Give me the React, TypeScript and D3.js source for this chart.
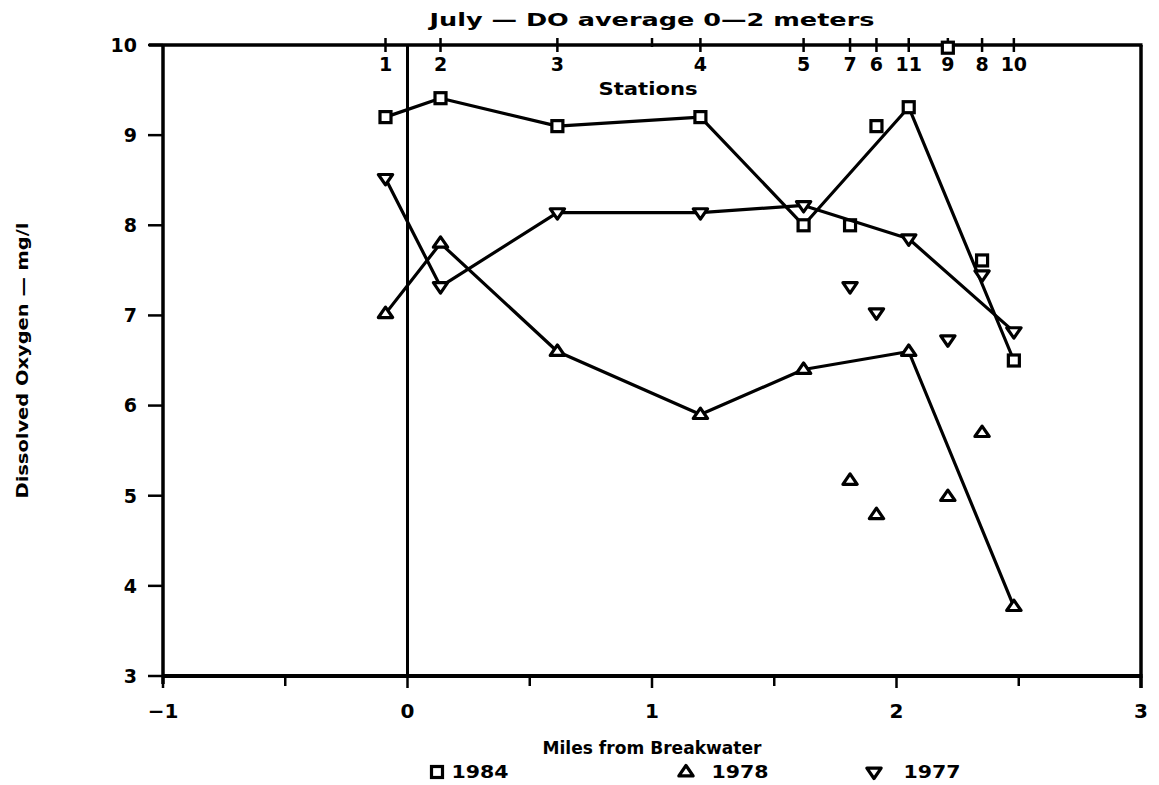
import React from "react";
import * as d3 from "d3";

// Stations along the shore, and their distance from the breakwater (miles)
const stationNames = ["1", "2", "3", "4", "5", "7", "6", "11", "9", "8", "10"];
const stationMiles = [-0.09, 0.135, 0.613, 1.198, 1.62, 1.81, 1.918, 2.05, 2.21, 2.35, 2.48];
// Stations joined by the trend lines (others are plotted as lone points)
const connectedStations = ["1", "2", "3", "4", "5", "11", "10"];

// July dissolved oxygen, average over 0-2 m (mg/l), in station order above
const do1984 = [9.2, 9.41, 9.1, 9.2, 8.0, 8.0, 9.1, 9.31, 9.97, 7.61, 6.5];
const do1978 = [7.02, 7.8, 6.6, 5.9, 6.4, 5.17, 4.79, 6.6, 4.99, 5.7, 3.77];
const do1977 = [8.52, 7.32, 8.14, 8.14, 8.22, 7.32, 7.03, 7.85, 6.73, 7.45, 6.82];

const xTicks = [-1, 0, 1, 2, 3];
const xMinorTicks = [-0.5, 0.5, 1.5, 2.5];
const yTicks = [3, 4, 5, 6, 7, 8, 9, 10];

const W = 1159;
const H = 785;
const FONT = "'DejaVu Sans', Verdana, sans-serif";

type Shape = "square" | "up" | "down";

function Marker({ shape, x, y }: { shape: Shape; x: number; y: number }) {
  const s = 5.5;
  if (shape === "square") {
    return <rect x={x - s} y={y - s} width={2 * s} height={2 * s} fill="white" stroke="black" strokeWidth={3.2} />;
  }
  const h = 6.5;
  const pts =
    shape === "up"
      ? [[x, y - h], [x + h * 1.1, y + h * 0.6], [x - h * 1.1, y + h * 0.6]]
      : [[x, y + h], [x + h * 1.1, y - h * 0.6], [x - h * 1.1, y - h * 0.6]];
  return <polygon points={pts.map((p) => p.join(",")).join(" ")} fill="white" stroke="black" strokeWidth={3.2} strokeLinejoin="round" />;
}

export default function App() {
  const x = d3.scaleLinear().domain([-1, 3]).range([163, 1141]);
  const y = d3.scaleLinear().domain([3, 10]).range([676, 45]);

  const series: { name: string; values: number[]; shape: Shape }[] = [
    { name: "1984", values: do1984, shape: "square" },
    { name: "1978", values: do1978, shape: "up" },
    { name: "1977", values: do1977, shape: "down" },
  ];

  const line = d3
    .line<[number, number]>()
    .x((d) => x(d[0]))
    .y((d) => y(d[1]));

  const [x0, x1] = x.range();
  const [yb, yt] = y.range();

  return (
    <svg width={W} height={H} style={{ position: "absolute", left: 0, top: 0, background: "white" }} fontFamily={FONT} fontWeight="bold">
      {/* frame */}
      <line x1={x0} y1={yt} x2={x0} y2={yb + 8} stroke="black" strokeWidth={3.5} />
      <line x1={x0 - 14} y1={yt} x2={x1 + 1.5} y2={yt} stroke="black" strokeWidth={3.5} />
      <line x1={x1} y1={yt} x2={x1} y2={yb + 12} stroke="black" strokeWidth={3.5} />
      <line x1={x0} y1={yb} x2={x1 + 1.5} y2={yb} stroke="black" strokeWidth={4} />
      {/* breakwater line at 0 miles */}
      <line x1={x(0)} y1={yt} x2={x(0)} y2={yb} stroke="black" strokeWidth={3} />

      {/* y axis */}
      {yTicks.map((t) => (
        <g key={"y" + t}>
          <line x1={x0 - 15} x2={x0} y1={y(t)} y2={y(t)} stroke="black" strokeWidth={2.5} />
          <text x={x0 - 26} y={y(t)} dy="0.36em" textAnchor="end" fontSize={19}>
            {t}
          </text>
        </g>
      ))}
      <text
        transform={`translate(28,${(yt + yb) / 2}) rotate(-90)`}
        textAnchor="middle"
        fontSize={16}
        textLength={276}
        lengthAdjust="spacingAndGlyphs"
      >
        Dissolved Oxygen — mg/l
      </text>

      {/* bottom x axis */}
      {xTicks.map((t) => (
        <g key={"x" + t}>
          <line x1={x(t)} x2={x(t)} y1={yb} y2={yb + 12} stroke="black" strokeWidth={2.5} />
          <text x={x(t)} y={yb + 42} textAnchor="middle" fontSize={20}>
            {t < 0 ? "−" + Math.abs(t) : t}
          </text>
        </g>
      ))}
      {xMinorTicks.map((t) => (
        <line key={"xm" + t} x1={x(t)} x2={x(t)} y1={yb} y2={yb + 10} stroke="black" strokeWidth={2.5} />
      ))}
      <text x={652} y={yb + 78} textAnchor="middle" fontSize={17} textLength={219} lengthAdjust="spacingAndGlyphs">
        Miles from Breakwater
      </text>

      {/* top station axis */}
      {stationMiles.map((m, i) => (
        <g key={"s" + i}>
          <line x1={x(m)} x2={x(m)} y1={yt - 7} y2={yt + 7} stroke="black" strokeWidth={2.5} />
          <text x={x(m)} y={yt + 26} textAnchor="middle" fontSize={19}>
            {stationNames[i]}
          </text>
        </g>
      ))}
      <line x1={x(1)} x2={x(1)} y1={yt - 7} y2={yt + 2} stroke="black" strokeWidth={2.5} />
      <text x={648} y={yt + 50} textAnchor="middle" fontSize={17} textLength={99} lengthAdjust="spacingAndGlyphs">
        Stations
      </text>
      <text x={652} y={26} textAnchor="middle" fontSize={18} textLength={445} lengthAdjust="spacingAndGlyphs">
        July — DO average 0—2 meters
      </text>

      {/* series */}
      {series.map((s) => {
        const pts: [number, number][] = connectedStations.map((name) => {
          const i = stationNames.indexOf(name);
          return [stationMiles[i], s.values[i]];
        });
        return (
          <g key={s.name}>
            <path d={line(pts) || ""} fill="none" stroke="black" strokeWidth={3.2} strokeLinejoin="round" />
            {s.values.map((v, i) => (
              <Marker key={i} shape={s.shape} x={x(stationMiles[i])} y={y(v)} />
            ))}
          </g>
        );
      })}

      {/* legend */}
      {[
        { shape: "square" as Shape, label: "1984", mx: 437, tx: 480 },
        { shape: "up" as Shape, label: "1978", mx: 686, tx: 740 },
        { shape: "down" as Shape, label: "1977", mx: 874, tx: 932 },
      ].map((l) => (
        <g key={l.label}>
          <Marker shape={l.shape} x={l.mx} y={772} />
          <text x={l.tx} y={772} dy="0.36em" textAnchor="middle" fontSize={18} textLength={57} lengthAdjust="spacingAndGlyphs">
            {l.label}
          </text>
        </g>
      ))}
    </svg>
  );
}
